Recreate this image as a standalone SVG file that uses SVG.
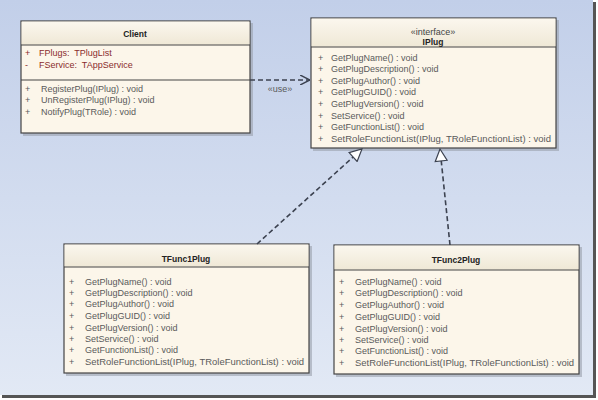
<svg xmlns="http://www.w3.org/2000/svg" width="598" height="400" viewBox="0 0 598 400">
<defs>
<linearGradient id="bg" x1="0" y1="0" x2="0" y2="1">
<stop offset="0" stop-color="#c2cfe9"/>
<stop offset="1" stop-color="#e2e9f5"/>
</linearGradient>
<linearGradient id="hd" x1="0" y1="0" x2="0" y2="1">
<stop offset="0" stop-color="#fbf7ee"/>
<stop offset="1" stop-color="#efe8d6"/>
</linearGradient>
<marker id="open" viewBox="0 0 10 10" refX="10" refY="5" markerWidth="10" markerHeight="10" markerUnits="userSpaceOnUse" orient="auto">
<path d="M0,0 L10,5 L0,10" fill="none" stroke="#3c4250" stroke-width="1.5"/>
</marker>
<marker id="tri" viewBox="0 0 14 14" refX="13" refY="7" markerWidth="14" markerHeight="14" markerUnits="userSpaceOnUse" orient="auto">
<path d="M1,1 L13,7 L1,13 Z" fill="#ffffff" stroke="#3c4250" stroke-width="1.2"/>
</marker>
</defs>
<style>
.box{fill:#fcf6ea;stroke:#444;stroke-width:1.2}
.hdr{fill:url(#hd)}
.sh{fill:#9aa0ab;opacity:0.6}
.div{stroke:#444;stroke-width:1.2}
text{font-family:"Liberation Sans",Arial,sans-serif;font-size:9px;fill:#5a5a5a}
.t{font-weight:bold;fill:#222;text-anchor:middle;font-size:8.5px}
.st{fill:#444;text-anchor:middle}
.a{fill:#8a2c2c}
.c{stroke:#3c4250;stroke-width:1.6;stroke-dasharray:5,3;fill:none}
</style>
<rect x="0" y="0" width="598" height="400" fill="#ffffff"/>
<rect x="2" y="2" width="594" height="396" fill="#555"/>
<rect x="0" y="0" width="593" height="395" fill="url(#bg)"/>

<g id="client">
<rect class="sh" x="23" y="23" width="230" height="113"/>
<rect class="box" x="21" y="21" width="229" height="112"/>
<rect class="hdr" x="21.6" y="21.6" width="227.8" height="23"/>
<line class="div" x1="21" y1="45" x2="250" y2="45"/>
<line class="div" x1="21" y1="80" x2="250" y2="80"/>
<text class="t" x="135" y="37">Client</text>
<text class="a" x="25" y="56">+</text><text class="a" x="39" y="56" xml:space="preserve">FPlugs:  TPlugList</text>
<text class="a" x="25" y="68">-</text><text class="a" x="39" y="68" xml:space="preserve">FService:  TAppService</text>
<text x="25" y="92">+</text><text x="41" y="92">RegisterPlug(IPlug) : void</text>
<text x="25" y="103">+</text><text x="41" y="103">UnRegisterPlug(IPlug) : void</text>
<text x="25" y="115">+</text><text x="41" y="115">NotifyPlug(TRole) : void</text>
</g>

<g id="iplug">
<rect class="sh" x="313" y="20" width="246" height="131"/>
<rect class="box" x="311" y="18" width="245" height="130"/>
<rect class="hdr" x="311.6" y="18.6" width="243.8" height="28"/>
<line class="div" x1="311" y1="47" x2="556" y2="47"/>
<text class="st" x="433" y="35" font-size="7.5">«interface»</text>
<text class="t" x="433" y="45">IPlug</text>
<text x="318" y="61">+</text><text x="331" y="61">GetPlugName() : void</text>
<text x="318" y="72">+</text><text x="331" y="72">GetPlugDescription() : void</text>
<text x="318" y="84">+</text><text x="331" y="84">GetPlugAuthor() : void</text>
<text x="318" y="95">+</text><text x="331" y="95">GetPlugGUID() : void</text>
<text x="318" y="107">+</text><text x="331" y="107">GetPlugVersion() : void</text>
<text x="318" y="119">+</text><text x="331" y="119">SetService() : void</text>
<text x="318" y="130">+</text><text x="331" y="130">GetFunctionList() : void</text>
<text x="318" y="142">+</text><text x="331" y="142" textLength="220" lengthAdjust="spacingAndGlyphs">SetRoleFunctionList(IPlug, TRoleFunctionList) : void</text>
</g>

<g id="tfunc1plug">
<rect class="sh" x="66" y="246" width="246" height="130"/>
<rect class="box" x="64" y="244" width="245" height="129"/>
<rect class="hdr" x="64.6" y="244.6" width="243.8" height="22"/>
<line class="div" x1="64" y1="267" x2="309" y2="267"/>
<text class="t" x="186" y="262">TFunc1Plug</text>
<text x="69" y="285">+</text><text x="85" y="285">GetPlugName() : void</text>
<text x="69" y="296">+</text><text x="85" y="296">GetPlugDescription() : void</text>
<text x="69" y="307">+</text><text x="85" y="307">GetPlugAuthor() : void</text>
<text x="69" y="319">+</text><text x="85" y="319">GetPlugGUID() : void</text>
<text x="69" y="331">+</text><text x="85" y="331">GetPlugVersion() : void</text>
<text x="69" y="342">+</text><text x="85" y="342">SetService() : void</text>
<text x="69" y="353">+</text><text x="85" y="353">GetFunctionList() : void</text>
<text x="69" y="365">+</text><text x="85" y="365" textLength="219" lengthAdjust="spacingAndGlyphs">SetRoleFunctionList(IPlug, TRoleFunctionList) : void</text>
</g>

<g id="tfunc2plug">
<rect class="sh" x="336" y="247" width="246" height="130"/>
<rect class="box" x="334" y="245" width="245" height="129"/>
<rect class="hdr" x="334.6" y="245.6" width="243.8" height="24"/>
<line class="div" x1="334" y1="270" x2="579" y2="270"/>
<text class="t" x="456" y="263">TFunc2Plug</text>
<text x="339" y="285">+</text><text x="355" y="285">GetPlugName() : void</text>
<text x="339" y="296">+</text><text x="355" y="296">GetPlugDescription() : void</text>
<text x="339" y="308">+</text><text x="355" y="308">GetPlugAuthor() : void</text>
<text x="339" y="320">+</text><text x="355" y="320">GetPlugGUID() : void</text>
<text x="339" y="332">+</text><text x="355" y="332">GetPlugVersion() : void</text>
<text x="339" y="343">+</text><text x="355" y="343">SetService() : void</text>
<text x="339" y="354">+</text><text x="355" y="354">GetFunctionList() : void</text>
<text x="339" y="366">+</text><text x="355" y="366" textLength="219" lengthAdjust="spacingAndGlyphs">SetRoleFunctionList(IPlug, TRoleFunctionList) : void</text>
</g>

<g id="connectors">
<line class="c" x1="250" y1="80" x2="310" y2="80" marker-end="url(#open)"/>
<text x="280" y="92" font-size="7" text-anchor="middle" fill="#4a4f60">«use»</text>
<line class="c" x1="257" y1="244" x2="362" y2="149" marker-end="url(#tri)"/>
<line class="c" x1="450" y1="245" x2="440" y2="149" marker-end="url(#tri)"/>
</g>
</svg>
